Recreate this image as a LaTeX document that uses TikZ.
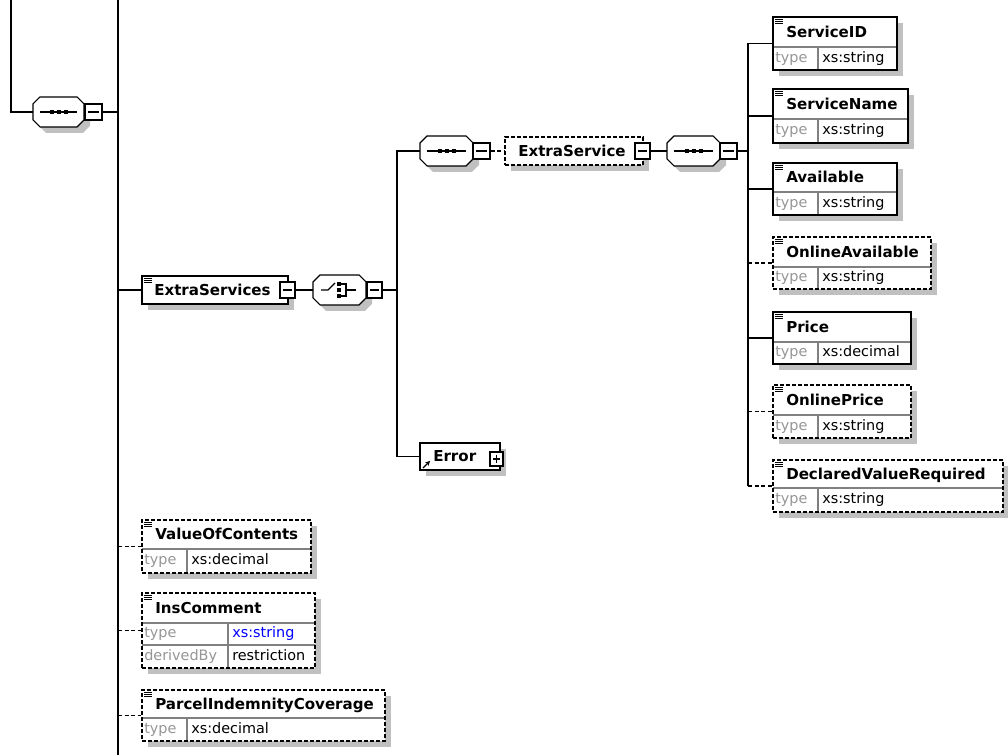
\documentclass[tikz,border=0pt]{standalone}
\usepackage{fontspec}
\setmainfont{DejaVu Sans}
\usetikzlibrary{fit,arrows.meta}
\definecolor{shadowc}{RGB}{192,192,192}
\definecolor{sepc}{RGB}{128,128,128}
\definecolor{typec}{RGB}{150,150,150}
\definecolor{bluec}{RGB}{0,0,255}
\tikzset{
  conn/.style={line width=0.8pt},
  optconn/.style={line width=0.8pt, dash pattern=on 3pt off 2pt},
  box/.style={draw, line width=0.8pt, inner sep=0pt},
  optbox/.style={box, dash pattern=on 3pt off 1.5pt},
  ttl/.style={anchor=base west, inner sep=0pt, font=\fontsize{11.3}{13}\selectfont\bfseries},
  lbl/.style={anchor=base west, inner sep=0pt, font=\fontsize{10.8}{13}\selectfont, text=typec},
  val/.style={anchor=base west, inner sep=0pt, font=\fontsize{10.8}{13}\selectfont},
  ctrlbox/.style={draw, fill=white, line width=1pt, inner sep=0pt},
  octline/.style={line width=0.8pt, fill=white},
}
% icon at top-left of an element box
\newcommand\elicon[2]{%
  \draw[line width=0.6pt] (#1+2,#2+2) -- ++(8,0) (#1+2,#2+4) -- ++(8,0) (#1+2,#2+6) -- ++(8,0);}
% element box: [style] name x1 y1 x2 ysep y2 title typevalue
\newcommand\elembox[9][box]{%
  \fill[shadowc] (#3+6,#4+6) rectangle (#5+6,#7+6);
  \fill[white] (#3,#4) rectangle (#5,#7);
  \draw[sepc, line width=0.8pt] (#3,#6) -- (#5,#6) (#3+45,#6) -- (#3+45,#7);
  \node[#1, fit={(#3,#4) (#5,#7)}] (#2) {};
  \elicon{#3}{#4}
  \node[ttl] at (#3+13,{(#4+#6)/2+5.5}) {#8};
  \node[lbl] at (#3+2,{(#6+#7)/2+4}) {type};
  \node[val] at (#3+49,{(#6+#7)/2+4}) {#9};
}
% minus / plus control boxes: name x1 y1 x2 y2
\newcommand\minusbox[5]{%
  \node[ctrlbox, fit={(#2,#3) (#4,#5)}] (#1) {};
  \draw[line width=0.8pt] (#2+3,{(#3+#5)/2}) -- (#4-3,{(#3+#5)/2});
}
\newcommand\plusbox[5]{%
  \node[ctrlbox, fit={(#2,#3) (#4,#5)}] (#1) {};
  \draw[line width=0.8pt] (#2+3,{(#3+#5)/2}) -- (#4-3,{(#3+#5)/2})
    ({(#2+#4)/2},#3+3) -- ({(#2+#4)/2},#5-3);
}
% octagon compositor: name x1 y1 x2 y2
\newcommand\octa[5]{%
  \fill[shadowc, shift={(6,6)}] (#2+7,#3) -- (#4-7,#3) -- (#4,#3+7) -- (#4,#5-7) -- (#4-7,#5) -- (#2+7,#5) -- (#2,#5-7) -- (#2,#3+7) -- cycle;
  \filldraw[octline] (#2+7,#3) -- (#4-7,#3) -- (#4,#3+7) -- (#4,#5-7) -- (#4-7,#5) -- (#2+7,#5) -- (#2,#5-7) -- (#2,#3+7) -- cycle;
  \node[inner sep=0pt, fit={(#2,#3) (#4,#5)}] (#1) {};
}
% sequence symbol: x1 x2 yc
\newcommand\seqsym[3]{%
  \draw[line width=0.8pt] (#1+7,#3) -- (#2-7,#3);
  \fill ({(#1+#2)/2-9},#3-2) rectangle ++(4,4);
  \fill ({(#1+#2)/2-2},#3-2) rectangle ++(4,4);
  \fill ({(#1+#2)/2+5},#3-2) rectangle ++(4,4);
}
\begin{document}
\begin{tikzpicture}[x=0.75pt,y=-0.75pt]
\useasboundingbox (0,0) rectangle (1008,755);
\fill[white] (0,0) rectangle (1008,755);

\coordinate (topL) at (11,0);
\coordinate (spTop) at (118,0);
\coordinate (spBot) at (118,755);
\coordinate (s2) at (397,0);
\coordinate (s3) at (748,0);

% top-left sequence
\octa{seqA}{33}{97}{84}{127}
\seqsym{33}{84}{112}
\minusbox{mA}{85}{104}{102}{120}

% ExtraServices
\fill[shadowc] (148,282) rectangle (294,310);
\node[box, fill=white, fit={(142,276) (288,304)}] (es) {};
\elicon{142}{276}
\node[ttl] at (154,295.5) {ExtraServices};
\minusbox{mES}{280}{282}{295}{298}

% choice
\octa{ch}{313}{275}{366}{305}
\draw[line width=0.8pt] (321,290) -- (328,290) -- (335,283);
\fill (337,282) rectangle (341,286);
\fill (337,288) rectangle (341,292);
\fill (337,294) rectangle (341,298);
\draw[line width=0.8pt] (341,284) -- (346,284) -- (346,296) -- (341,296) (346,290) -- (356,290);
\minusbox{mCh}{367}{282}{382}{298}

% inner sequence + ExtraService
\octa{seqB}{420}{136}{473}{166}
\seqsym{420}{473}{151}
\minusbox{mB}{473}{143}{490}{159}

\fill[shadowc] (511,143) rectangle (649,171);
\node[optbox, fill=white, fit={(505,137) (643,165)}] (xs) {};
\node[ttl] at (518,156.5) {ExtraService};
\minusbox{mXS}{635}{143}{650}{159}

\octa{seqC}{667}{136}{720}{166}
\seqsym{667}{720}{151}
\minusbox{mC}{720}{143}{737}{159}

% Error
\fill[shadowc] (426,449) rectangle (506,476);
\node[box, fill=white, fit={(420,443) (500,470)}] (err) {};
\node[ttl] at (433,462) {Error};
\draw[line width=0.8pt, -{Stealth[length=3.5pt,width=3.5pt]}] (423,468) -- (430,461);
\plusbox{pErr}{490}{452}{503}{466}

% right-hand elements
\elembox{sid}{773}{17}{897}{47}{70}{ServiceID}{xs:string}
\elembox{sname}{773}{89}{908}{119}{143}{ServiceName}{xs:string}
\elembox{avail}{773}{163}{897}{192}{215}{Available}{xs:string}
\elembox[optbox]{oavail}{773}{237}{931}{267}{289}{OnlineAvailable}{xs:string}
\elembox{price}{773}{312}{911}{342}{364}{Price}{xs:decimal}
\elembox[optbox]{oprice}{773}{385}{911}{415}{438}{OnlinePrice}{xs:string}
\elembox[optbox]{dvr}{773}{460}{1003}{488}{512}{DeclaredValueRequired}{xs:string}

% left-hand elements
\elembox[optbox]{voc}{142}{520}{311}{549}{573}{ValueOfContents}{xs:decimal}

\fill[shadowc] (148,599) rectangle (321,674);
\fill[white] (142,593) rectangle (315,668);
\draw[sepc, line width=0.8pt] (142,623) -- (315,623) (142,645) -- (315,645) (228,623) -- (228,668);
\node[optbox, fit={(142,593) (315,668)}] (insc) {};
\elicon{142}{593}
\node[ttl] at (155,613.5) {InsComment};
\node[lbl] at (144,638) {type};
\node[val, text=bluec] at (232,638) {xs:string};
\node[lbl] at (144,660.5) {derivedBy};
\node[val] at (232,660.5) {restriction};

\elembox[optbox]{pic}{142}{690}{385}{718}{741}{ParcelIndemnityCoverage}{xs:decimal}

% connectors
\draw[conn] (topL) |- (seqA.west);
\draw[conn] (mA.east) -- (mA.east -| spTop);
\draw[conn] (spTop) -- (spBot);
\draw[conn] (es.west -| spTop) -- (es.west);
\draw[optconn] (voc.west -| spTop) -- (voc.west);
\draw[optconn] (insc.west -| spTop) -- (insc.west);
\draw[optconn] (pic.west -| spTop) -- (pic.west);
\draw[conn] (mES.east) -- (ch.west);
\draw[conn] (mCh.east) -- (mCh.east -| s2);
\draw[conn] (seqB.west) -- (seqB.west -| s2) -- (err.west -| s2) -- (err.west);
\draw[optconn] (mB.east) -- (xs.west);
\draw[conn] (mXS.east) -- (seqC.west);
\draw[conn] (mC.east) -- (mC.east -| s3);
\draw[conn] (sid.west -| s3) -- (dvr.west -| s3);
\draw[conn] (sid.west -| s3) -- (sid.west);
\draw[conn] (sname.west -| s3) -- (sname.west);
\draw[conn] (avail.west -| s3) -- (avail.west);
\draw[optconn] (oavail.west -| s3) -- (oavail.west);
\draw[conn] (price.west -| s3) -- (price.west);
\draw[optconn] (oprice.west -| s3) -- (oprice.west);
\draw[optconn] (dvr.west -| s3) -- (dvr.west);
\end{tikzpicture}
\end{document}
